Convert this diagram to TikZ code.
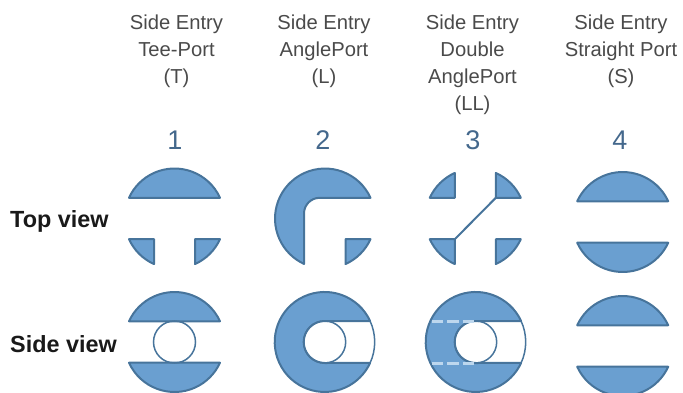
\documentclass[tikz,border=0pt]{standalone}
\usepackage{fontspec}
\setmainfont{Liberation Sans}
\usetikzlibrary{positioning}
\definecolor{portfill}{HTML}{6A9FD0}
\definecolor{portline}{HTML}{47749B}
\definecolor{portdash}{HTML}{BDD7EE}
\definecolor{numblue}{HTML}{44688C}
\definecolor{textgrey}{HTML}{4A4A4A}
\tikzset{
  port/.style={fill=portfill, draw=portline, line width=2pt, line join=round},
  thinline/.style={draw=portline, line width=1.5pt},
  heading/.style={anchor=north, align=center, text=textgrey, inner sep=0pt, font=\fontsize{20.2}{27}\selectfont},
  number/.style={text=numblue, inner sep=0pt, font=\fontsize{27}{27}\selectfont},
  rowlabel/.style={anchor=west, text=black!90, inner sep=0pt, font=\fontsize{23.4}{24}\selectfont\bfseries},
  hidden/.style={draw=portdash, line width=3pt, dash pattern=on 11.5pt off 4pt},
}
\newcommand{\topseg}[1]{\draw[port] ([shift={(24.5:50)}]#1) arc[start angle=24.5, end angle=155.5, radius=50] -- cycle;}
\newcommand{\botseg}[1]{\draw[port] ([shift={(204.5:50)}]#1) arc[start angle=204.5, end angle=335.5, radius=50] -- cycle;}
\newcommand{\portwedge}[3]{\draw[port, shift={(#1)}, xscale=#2, yscale=#3] (20.5,20.7) -- (45.5,20.7) arc[start angle=24.5, end angle=65.8, radius=50] -- cycle;}
\begin{document}
\begin{tikzpicture}[x=1pt, y=1pt]
  \useasboundingbox (0,0) rectangle (683,392);

  % Centres of the top row and the side row
  \coordinate (t1) at (174.5,173.5);
  \coordinate (t2) at (325,173.5);
  \coordinate (t3) at (475.3,173.5);
  \coordinate (t4) at (622.7,170);
  \coordinate (s1) at (174.5,50);
  \coordinate (s2) at (324.7,50);
  \coordinate (s3) at (475.7,50);
  \coordinate (s4) at (622.7,46);

  % Headings
  \node[heading] (head1) at (176.5,377.5) {Side Entry\\Tee-Port\\(T)};
  \node[heading] (head2) at (324,377.5) {Side Entry\\AnglePort\\(L)};
  \node[heading] (head3) at (472.5,377.5) {Side Entry\\Double\\AnglePort\\(LL)};
  \node[heading] (head4) at (621,377.5) {Side Entry\\Straight Port\\(S)};
  \node[number] (num1) at (175,252) {1};
  \node[number] (num2) at (323,252) {2};
  \node[number] (num3) at (473,252) {3};
  \node[number] (num4) at (620,252) {4};
  \node[rowlabel] (toplabel) at (10,170.5) {Top view};
  \node[rowlabel] (sidelabel) at (10,47.5) {Side view};

  % Top view
  \topseg{t1}
  \portwedge{t1}{-1}{-1}
  \portwedge{t1}{1}{-1}

  \draw[port, shift={(t2)}] (45.5,20.7) arc[start angle=24.5, end angle=245.2, radius=50]
    -- (-21,5) arc[start angle=180, end angle=90, radius=15.7] -- cycle;
  \portwedge{t2}{1}{-1}

  \portwedge{t3}{-1}{1}
  \portwedge{t3}{1}{1}
  \portwedge{t3}{-1}{-1}
  \portwedge{t3}{1}{-1}
  \coordinate (diagA) at ([shift={(20.5,20.7)}]t3);
  \coordinate (diagB) at ([shift={(-20.5,-20.7)}]t3);
  \draw[thinline, line width=2pt] (diagA) -- (diagB);

  \topseg{t4}
  \botseg{t4}

  % Side view
  \topseg{s1}
  \botseg{s1}
  \draw[thinline] (s1) circle[radius=21];

  \draw[port, shift={(s2)}] (45.4,21) arc[start angle=24.8, end angle=335.2, radius=50]
    -- (0,-21) arc[start angle=270, end angle=90, radius=21] -- cycle;
  \draw[thinline, shift={(s2)}] (-24.8:50) arc[start angle=-24.8, end angle=24.8, radius=50];
  \draw[thinline] (s2) circle[radius=21];

  \draw[port, shift={(s3)}] (45.4,21) arc[start angle=24.8, end angle=335.2, radius=50]
    -- (0,-21) arc[start angle=270, end angle=90, radius=21] -- cycle;
  \draw[thinline, shift={(s3)}] (-24.8:50) arc[start angle=-24.8, end angle=24.8, radius=50];
  \draw[thinline] (s3) circle[radius=21];
  \draw[hidden, shift={(s3)}] (-44,21) -- (0,21);
  \draw[hidden, shift={(s3)}] (-44,-21) -- (0,-21);

  \topseg{s4}
  \botseg{s4}
\end{tikzpicture}
\end{document}
